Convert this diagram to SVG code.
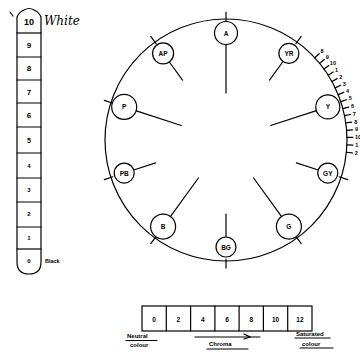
<svg xmlns="http://www.w3.org/2000/svg" width="360" height="352" viewBox="0 0 360 352">
<style>
.ln{stroke:#000;stroke-width:1.2;fill:none;stroke-linecap:round}
.nd{fill:#fff;stroke:#000;stroke-width:1.2}
.lb{font-family:"Liberation Sans",Arial,sans-serif;font-weight:bold;font-size:6.5px;text-anchor:middle;dominant-baseline:central;fill:#000}
.sc{font-family:"Liberation Sans",Arial,sans-serif;font-weight:bold;font-size:5.5px;text-anchor:middle;dominant-baseline:central;fill:#000}
.cl{fill:#fff;stroke:#000;stroke-width:1.2}
.tx{font-family:"Liberation Sans",Arial,sans-serif;font-weight:bold;font-size:6px;fill:#000}
</style>
<rect width="360" height="352" fill="#fff"/>

<!-- Value scale -->
<g id="value-scale">
<path class="ln" d="M17,33 L17,17 Q19,12 24,10 Q29,7 34,10 Q39,12 41,17 L41,33"/>
<path class="ln" d="M17,249 L17,262 Q17,274 29,274 Q41,274 41,262 L41,249"/>
<rect class="cl" x="17" y="33" width="24" height="216"/>
<g class="ln">
<line x1="17" y1="57" x2="41" y2="57"/>
<line x1="17" y1="80" x2="41" y2="80"/>
<line x1="17" y1="103" x2="41" y2="103"/>
<line x1="17" y1="127" x2="41" y2="127"/>
<line x1="17" y1="153" x2="41" y2="153"/>
<line x1="17" y1="178" x2="41" y2="178"/>
<line x1="17" y1="202" x2="41" y2="202"/>
<line x1="17" y1="227" x2="41" y2="227"/>
</g>
<line class="ln" x1="10" y1="12" x2="13" y2="16"/>
<text x="29" y="22" class="lb" style="font-size:9px">10</text>
<text x="29" y="45" class="lb" style="font-size:8px">9</text>
<text x="29" y="68" class="lb" style="font-size:8px">8</text>
<text x="29" y="92" class="lb" style="font-size:8px">7</text>
<text x="29" y="115" class="lb" style="font-size:8px">6</text>
<text x="29" y="140" class="lb" style="font-size:7px">5</text>
<text x="29" y="166" class="lb" style="font-size:6px">4</text>
<text x="29" y="190" class="lb" style="font-size:6px">3</text>
<text x="29" y="214" class="lb" style="font-size:6px">2</text>
<text x="29" y="238" class="lb" style="font-size:6px">1</text>
<text x="29" y="261" class="lb" style="font-size:6px">0</text>
<text x="44" y="25" style="font-family:'DejaVu Serif',serif;font-style:italic;font-size:12px;fill:#000">White</text>
<text x="45" y="263" class="tx" style="font-size:5.5px">Black</text>
</g>

<!-- Hue circle -->
<g id="hue-circle">
<circle cx="226" cy="140" r="121" class="ln"/>
</g>

<!-- Connectors: spokes and ticks -->
<g id="connectors" class="ln">
<line x1="226" y1="45" x2="226" y2="93"/>
<line x1="283" y1="61.5" x2="269.5" y2="80.1"/>
<line x1="316.4" y1="110.6" x2="270.7" y2="125.5"/>
<line x1="318.3" y1="170" x2="296.4" y2="162.9"/>
<line x1="281.8" y1="216.9" x2="253.6" y2="178"/>
<line x1="226" y1="237" x2="226" y2="214"/>
<line x1="170.2" y1="216.9" x2="198.4" y2="178"/>
<line x1="133.7" y1="170" x2="155.6" y2="162.9"/>
<line x1="135.6" y1="110.6" x2="181.3" y2="125.5"/>
<line x1="169" y1="61.5" x2="182.5" y2="80.1"/>

<line x1="226" y1="21" x2="226" y2="12"/>
<line x1="295.9" y1="43.7" x2="301.2" y2="36.4"/>
<line x1="339.2" y1="176.8" x2="347.7" y2="179.6"/>
<line x1="295.9" y1="236.3" x2="301.2" y2="243.6"/>
<line x1="226" y1="259" x2="226" y2="268"/>
<line x1="156.1" y1="236.3" x2="150.8" y2="243.6"/>
<line x1="112.8" y1="176.8" x2="104.3" y2="179.6"/>
<line x1="112.8" y1="103.2" x2="104.3" y2="100.4"/>
<line x1="156.1" y1="43.7" x2="150.8" y2="36.4"/>
</g>

<!-- Tick scale -->
<g id="tick-scale" transform="translate(226,140)">
<g class="ln">
<line x1="121" x2="127" transform="rotate(-42.8)"/>
<line x1="121" x2="127" transform="rotate(-39.3)"/>
<line x1="121" x2="127" transform="rotate(-35.9)"/>
<line x1="121" x2="127" transform="rotate(-32.4)"/>
<line x1="121" x2="127" transform="rotate(-28.9)"/>
<line x1="121" x2="127" transform="rotate(-25.5)"/>
<line x1="121" x2="127" transform="rotate(-22)"/>
<line x1="121" x2="127" transform="rotate(-18.5)"/>
<line x1="121" x2="127" transform="rotate(-15)"/>
<line x1="121" x2="127" transform="rotate(-11.6)"/>
<line x1="121" x2="127" transform="rotate(-8.1)"/>
<line x1="121" x2="127" transform="rotate(-4.6)"/>
<line x1="121" x2="127" transform="rotate(-1.2)"/>
<line x1="121" x2="127" transform="rotate(2.3)"/>
<line x1="121" x2="127" transform="rotate(5.8)"/>
</g>
<text class="sc" transform="rotate(-42.8) translate(131,0) rotate(42.8)">8</text>
<text class="sc" transform="rotate(-39.3) translate(131,0) rotate(39.3)">9</text>
<text class="sc" transform="rotate(-35.9) translate(132,0) rotate(35.9)">10</text>
<text class="sc" transform="rotate(-32.4) translate(131,0) rotate(32.4)">1</text>
<text class="sc" transform="rotate(-28.9) translate(131,0) rotate(28.9)">2</text>
<text class="sc" transform="rotate(-25.5) translate(131,0) rotate(25.5)">3</text>
<text class="sc" transform="rotate(-22) translate(131,0) rotate(22)">4</text>
<text class="sc" transform="rotate(-18.5) translate(131,0) rotate(18.5)">5</text>
<text class="sc" transform="rotate(-15) translate(131,0) rotate(15)">6</text>
<text class="sc" transform="rotate(-11.6) translate(131,0) rotate(11.6)">7</text>
<text class="sc" transform="rotate(-8.1) translate(131,0) rotate(8.1)">8</text>
<text class="sc" transform="rotate(-4.6) translate(131,0) rotate(4.6)">9</text>
<text class="sc" transform="rotate(-1.2) translate(132,0) rotate(1.2)">10</text>
<text class="sc" transform="rotate(2.3) translate(131,0) rotate(-2.3)">1</text>
<text class="sc" transform="rotate(5.8) translate(131,0) rotate(-5.8)">2</text>
</g>

<!-- Nodes -->
<g id="node-A"><circle class="nd" cx="226" cy="33" r="11.5"/><text class="lb" x="226" y="33">A</text></g>
<g id="node-YR"><circle class="nd" cx="288.9" cy="53.4" r="10"/><text class="lb" x="288.9" y="53.4">YR</text></g>
<g id="node-Y"><circle class="nd" cx="327.8" cy="106.9" r="12"/><text class="lb" x="327.8" y="106.9">Y</text></g>
<g id="node-GY"><circle class="nd" cx="327.8" cy="173.1" r="10"/><text class="lb" x="327.8" y="173.1">GY</text></g>
<g id="node-G"><circle class="nd" cx="288.9" cy="226.6" r="12.5"/><text class="lb" x="288.9" y="226.6">G</text></g>
<g id="node-BG"><circle class="nd" cx="226" cy="247" r="10"/><text class="lb" x="226" y="247">BG</text></g>
<g id="node-B"><circle class="nd" cx="163.1" cy="226.6" r="12.5"/><text class="lb" x="163.1" y="226.6">B</text></g>
<g id="node-PB"><circle class="nd" cx="124.2" cy="173.1" r="10"/><text class="lb" x="124.2" y="173.1">PB</text></g>
<g id="node-P"><circle class="nd" cx="124.2" cy="106.9" r="12.5"/><text class="lb" x="124.2" y="106.9">P</text></g>
<g id="node-AP"><circle class="nd" cx="163.1" cy="53.4" r="10.5"/><text class="lb" x="163.1" y="53.4">AP</text></g>

<!-- Chroma scale -->
<g id="chroma-scale">
<rect class="cl" x="142" y="306" width="170" height="25"/>
<g class="ln">
<line x1="166.3" y1="306" x2="166.3" y2="331"/>
<line x1="190.6" y1="306" x2="190.6" y2="331"/>
<line x1="214.9" y1="306" x2="214.9" y2="331"/>
<line x1="239.1" y1="306" x2="239.1" y2="331"/>
<line x1="263.4" y1="306" x2="263.4" y2="331"/>
<line x1="287.7" y1="306" x2="287.7" y2="331"/>
</g>
<text class="lb" x="154.1" y="319">0</text>
<text class="lb" x="178.4" y="319">2</text>
<text class="lb" x="202.7" y="319">4</text>
<text class="lb" x="227" y="319">6</text>
<text class="lb" x="251.3" y="319">8</text>
<text class="lb" x="275.6" y="319">10</text>
<text class="lb" x="299.9" y="319">12</text>
<text class="tx" x="127" y="338">Neutral</text>
<line class="ln" x1="126" y1="340.5" x2="157" y2="340.5"/>
<text class="tx" x="130" y="347">colour</text>
<line class="ln" x1="195" y1="337" x2="260" y2="337"/>
<path class="ln" d="M244,334 L250,337 L244,339"/>
<text class="tx" x="209" y="346">Chroma</text>
<line class="ln" x1="207" y1="349" x2="248" y2="349"/>
<text class="tx" x="296" y="336">Saturated</text>
<line class="ln" x1="295" y1="338" x2="330" y2="338"/>
<text class="tx" x="302" y="346">colour</text>
<line class="ln" x1="300" y1="348" x2="333" y2="348"/>
</g>
</svg>
